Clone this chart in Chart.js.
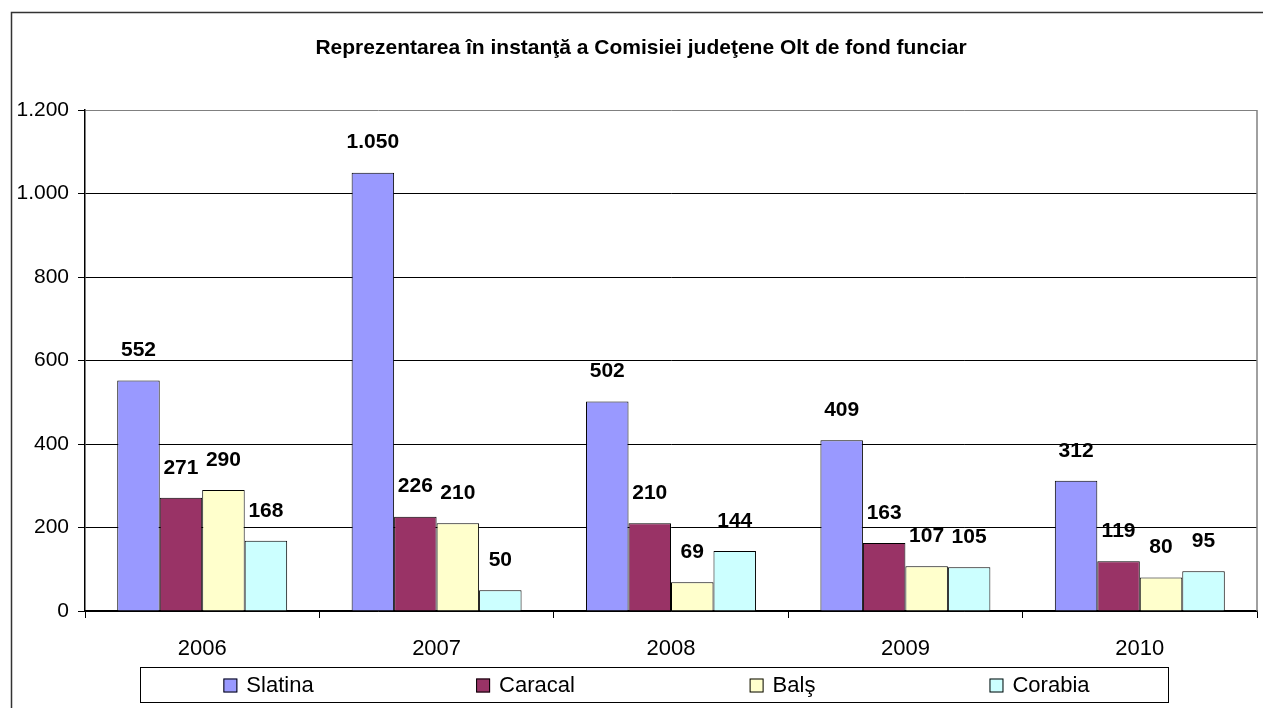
<!DOCTYPE html>
<html>
<head>
<meta charset="utf-8">
<script src="https://cdn.jsdelivr.net/npm/chart.js@4.4.0/dist/chart.umd.min.js"></script>
<style>
  html, body { margin: 0; padding: 0; background: #fff; }
  #wrap { position: relative; width: 1263px; height: 708px; overflow: hidden; }
</style>
</head>
<body>
<div id="wrap"><canvas id="chart" width="1263" height="708"></canvas></div>
<script>
// ===== DATA =====
const chartTitle = 'Reprezentarea în instanţă a Comisiei judeţene Olt de fond funciar';
const years = ['2006', '2007', '2008', '2009', '2010'];
const seriesNames = ['Slatina', 'Caracal', 'Balş', 'Corabia'];
const slatina = [552, 1050, 502, 409, 312];
const caracal = [271, 226, 210, 163, 119];
const bals = [290, 210, 69, 107, 80];
const corabia = [168, 50, 144, 105, 95];
const yMin = 0, yMax = 1200, yStep = 200;

const colors = ['#9999FF', '#993366', '#FFFFCC', '#CCFFFF'];
const FONT = "'Liberation Sans', Arial, sans-serif";

const fmt = v => String(v).replace(/\B(?=(\d{3})+(?!\d))/g, '.');

// ===== DECORATIONS: frame, title, value labels, legend =====
const decorations = {
  id: 'decorations',
  beforeDraw(chart) {
    const ctx = chart.ctx;
    ctx.save();
    ctx.strokeStyle = '#333';
    ctx.lineWidth = 1.5;
    ctx.strokeRect(11.5, 12.5, 1300, 760);
    ctx.restore();
  },
  afterDatasetsDraw(chart) {
    const ctx = chart.ctx;
    const area = chart.chartArea;
    ctx.save();
    // plot area right border
    ctx.strokeStyle = '#808080';
    ctx.lineWidth = 1.5;
    ctx.beginPath();
    ctx.moveTo(area.right, area.top);
    ctx.lineTo(area.right, area.bottom);
    ctx.stroke();

    // title
    ctx.fillStyle = '#000';
    ctx.font = 'bold 21px ' + FONT;
    ctx.textAlign = 'center';
    ctx.textBaseline = 'middle';
    ctx.fillText(chartTitle, 641, 48);

    // value labels
    ctx.font = 'bold 21px ' + FONT;
    chart.data.datasets.forEach((ds, i) => {
      chart.getDatasetMeta(i).data.forEach((bar, j) => {
        ctx.fillText(fmt(ds.data[j]), bar.x, bar.y - 30);
      });
    });

    // legend box
    const lx = 140, ly = 667, lw = 1028, lh = 35;
    ctx.strokeStyle = '#000';
    ctx.lineWidth = 1;
    ctx.strokeRect(lx + 0.5, ly + 0.5, lw, lh);
    ctx.font = '22px ' + FONT;
    ctx.textAlign = 'left';
    const col = lw / chart.data.datasets.length;
    chart.data.datasets.forEach((ds, i) => {
      const tw = ctx.measureText(ds.label).width;
      const itemW = 14 + 9 + tw;
      const x0 = lx + col * i + (col - itemW) / 2;
      const cy = ly + lh / 2 + 1;
      ctx.fillStyle = ds.backgroundColor;
      ctx.fillRect(x0, cy - 7, 14, 14);
      ctx.strokeStyle = '#000';
      ctx.strokeRect(x0 + 0.5, cy - 6.5, 13, 13);
      ctx.fillStyle = '#000';
      ctx.fillText(ds.label, x0 + 23, cy);
    });
    ctx.restore();
  }
};

new Chart(document.getElementById('chart'), {
  type: 'bar',
  data: {
    labels: years,
    datasets: [slatina, caracal, bals, corabia].map((d, i) => ({
      label: seriesNames[i],
      data: d,
      backgroundColor: colors[i],
      borderColor: '#000',
      borderWidth: 1,
      categoryPercentage: 0.725,
      barPercentage: 1.0
    }))
  },
  options: {
    responsive: false,
    animation: false,
    devicePixelRatio: 1,
    layout: { padding: { left: 0, top: 110, right: 6, bottom: 37 } },
    plugins: {
      legend: { display: false },
      title: { display: false },
      tooltip: { enabled: false }
    },
    scales: {
      x: {
        afterFit: s => { s.height = 60; },
        grid: {
          offset: true,
          drawOnChartArea: false,
          tickLength: 7,
          color: '#000'
        },
        border: { color: '#000', width: 1.5 },
        ticks: { color: '#000', font: { family: FONT, size: 22 }, padding: 18 }
      },
      y: {
        min: yMin,
        max: yMax,
        afterFit: s => { s.width = 85; },
        grid: {
          color: c => (c.tick && c.tick.value === yMax) ? '#808080' : '#000',
          tickColor: '#000',
          tickLength: 7,
          lineWidth: 1
        },
        border: { color: '#000', width: 1.5 },
        ticks: {
          stepSize: yStep,
          color: '#000',
          padding: 9,
          font: { family: FONT, size: 21 },
          callback: v => fmt(v)
        }
      }
    }
  },
  plugins: [decorations]
});
</script>
</body>
</html>
